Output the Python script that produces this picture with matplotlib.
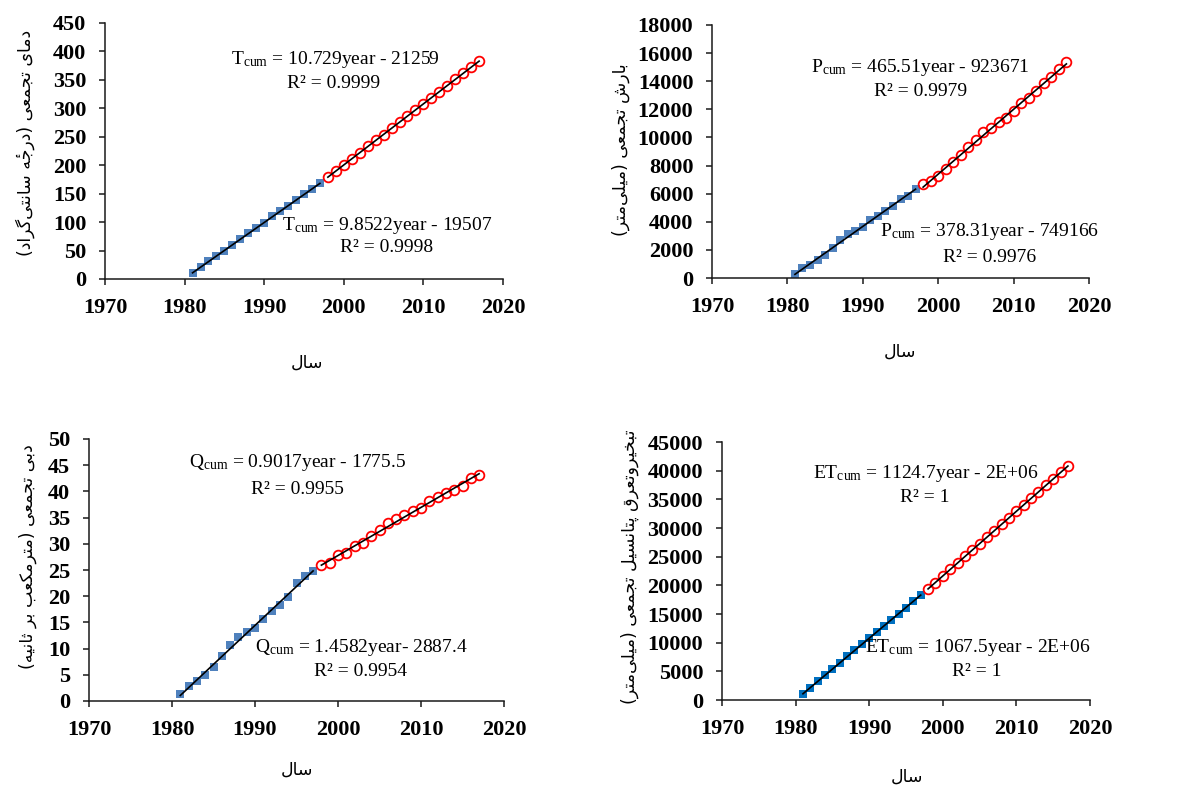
import numpy as np
import matplotlib
matplotlib.use("Agg")
import matplotlib.pyplot as plt

plt.rcParams['font.family'] = ['Liberation Serif', 'DejaVu Sans']
plt.rcParams['mathtext.fontset'] = 'custom'
plt.rcParams['mathtext.rm'] = 'Liberation Serif'
plt.rcParams['mathtext.it'] = 'Liberation Serif:italic'
plt.rcParams['mathtext.bf'] = 'Liberation Serif:bold'

# ---------------- data ----------------
years_1 = list(range(1981, 1998))
years_2 = list(range(1998, 2018))

temp_1 = [11, 21, 31, 40, 50, 59, 70, 80, 89, 99, 110, 119, 128, 139, 149, 158, 168]
temp_2 = [179, 190, 200, 211, 222, 233, 244, 254, 265, 276, 286, 297, 308, 318, 329,
          340, 351, 362, 372, 383]

prec_1 = [250, 690, 925, 1280, 1660, 2110, 2700, 3130, 3360, 3620, 4150, 4400, 4790,
          5120, 5590, 5830, 6330]
prec_2 = [6660, 6900, 7250, 7730, 8250, 8740, 9340, 9810, 10360, 10690, 11070, 11400,
          11870, 12420, 12820, 13270, 13840, 14290, 14900, 15360]

flow_1 = [1.27, 2.9, 3.9, 5.0, 6.4, 8.5, 10.7, 12.2, 13.1, 13.9, 15.6, 17.1, 18.3, 19.9,
          22.6, 23.8, 24.8]
flow_2 = [25.9, 26.4, 27.8, 28.3, 29.5, 30.1, 31.5, 32.7, 33.9, 34.7, 35.5, 36.2, 36.9,
          38.2, 38.9, 39.6, 40.2, 41.0, 42.5, 43.2]

et_1 = [1050, 2030, 3260, 4300, 5400, 6450, 7600, 8660, 9830, 10800, 11900, 12960, 13950,
        15000, 16100, 17200, 18260]
et_2 = [19360, 20470, 21630, 22790, 23900, 25060, 26160, 27270, 28430, 29530, 30640,
        31740, 32900, 34010, 35170, 36280, 37440, 38550, 39710, 40810]

y_labels = ["دمای تجمعی (درجۀ سانتی‌گراد)",
            "بارش تجمعی (میلی‌متر)",
            "دبی تجمعی (مترمکعب بر ثانیه)",
            "تبخیروتعرق پتانسیل تجمعی (میلی‌متر)"]
x_label = "سال"

eq_top = [("T", "10.729year - 21259", "0.9999"),
          ("P", "465.51year - 923671", "0.9979"),
          ("Q", "0.9017year - 1775.5", "0.9955"),
          ("ET", "1124.7year - 2E+06", "1")]
eq_bot = [("T", "9.8522year - 19507", "0.9998"),
          ("P", "378.31year - 749166", "0.9976"),
          ("Q", "1.4582year- 2887.4", "0.9954"),
          ("ET", "1067.5year - 2E+06", "1")]

y_max = [450, 18000, 50, 45000]
y_step = [50, 2000, 5, 5000]
x_ticks = [1970, 1980, 1990, 2000, 2010, 2020]

# ---------------- Persian shaping (presentation forms) ----------------
FORMS = {
    'ا': ('\uFE8D', '\uFE8E', None, None),
    'آ': ('\uFE81', '\uFE82', None, None),
    'ب': ('\uFE8F', '\uFE90', '\uFE91', '\uFE92'),
    'پ': ('\uFB56', '\uFB57', '\uFB58', '\uFB59'),
    'ت': ('\uFE95', '\uFE96', '\uFE97', '\uFE98'),
    'ث': ('\uFE99', '\uFE9A', '\uFE9B', '\uFE9C'),
    'ج': ('\uFE9D', '\uFE9E', '\uFE9F', '\uFEA0'),
    'چ': ('\uFB7A', '\uFB7B', '\uFB7C', '\uFB7D'),
    'ح': ('\uFEA1', '\uFEA2', '\uFEA3', '\uFEA4'),
    'خ': ('\uFEA5', '\uFEA6', '\uFEA7', '\uFEA8'),
    'د': ('\uFEA9', '\uFEAA', None, None),
    'ذ': ('\uFEAB', '\uFEAC', None, None),
    'ر': ('\uFEAD', '\uFEAE', None, None),
    'ز': ('\uFEAF', '\uFEB0', None, None),
    'ژ': ('\uFB8A', '\uFB8B', None, None),
    'س': ('\uFEB1', '\uFEB2', '\uFEB3', '\uFEB4'),
    'ش': ('\uFEB5', '\uFEB6', '\uFEB7', '\uFEB8'),
    'ص': ('\uFEB9', '\uFEBA', '\uFEBB', '\uFEBC'),
    'ض': ('\uFEBD', '\uFEBE', '\uFEBF', '\uFEC0'),
    'ط': ('\uFEC1', '\uFEC2', '\uFEC3', '\uFEC4'),
    'ظ': ('\uFEC5', '\uFEC6', '\uFEC7', '\uFEC8'),
    'ع': ('\uFEC9', '\uFECA', '\uFECB', '\uFECC'),
    'غ': ('\uFECD', '\uFECE', '\uFECF', '\uFED0'),
    'ف': ('\uFED1', '\uFED2', '\uFED3', '\uFED4'),
    'ق': ('\uFED5', '\uFED6', '\uFED7', '\uFED8'),
    'ک': ('\uFB8E', '\uFB8F', '\uFB90', '\uFB91'),
    'گ': ('\uFB92', '\uFB93', '\uFB94', '\uFB95'),
    'ل': ('\uFEDD', '\uFEDE', '\uFEDF', '\uFEE0'),
    'م': ('\uFEE1', '\uFEE2', '\uFEE3', '\uFEE4'),
    'ن': ('\uFEE5', '\uFEE6', '\uFEE7', '\uFEE8'),
    'ه': ('\uFEE9', '\uFEEA', '\uFEEB', '\uFEEC'),
    'و': ('\uFEED', '\uFEEE', None, None),
    'ی': ('\uFBFC', '\uFBFD', '\uFBFE', '\uFBFF'),
    # heh with yeh above: heh form followed by hamza above
    'ۀ': ('\uFEE9\u0654', '\uFEEA\u0654', None, None),
}
MIRROR = {'(': ')', ')': '('}


def shape(text):
    out = []
    n = len(text)
    for i, c in enumerate(text):
        if c not in FORMS:
            if c != '\u200c':
                out.append(MIRROR.get(c, c))
            continue
        prev = text[i - 1] if i > 0 else None
        nxt = text[i + 1] if i + 1 < n else None
        iso, fin, ini, med = FORMS[c]
        jp = prev in FORMS and FORMS[prev][2] is not None
        jn = ini is not None and nxt in FORMS
        if jp and jn:
            out.append(med)
        elif jp:
            out.append(fin)
        elif jn:
            out.append(ini)
        else:
            out.append(iso)
    return ''.join(out[::-1])


# ---------------- figure ----------------
W, H = 1189, 786
fig = plt.figure(figsize=(W / 100, H / 100), dpi=100)


def fx(px):
    return px / W


def fy(py):
    return 1 - py / H


# axes boxes in pixels: left, top, right, bottom
boxes = [(105, 23, 503, 279), (712, 25, 1089, 278),
         (89, 439, 504, 701), (722, 442, 1090, 700)]
blues = ['#4F81BD', '#4F81BD', '#4F81BD', '#0070C0']
series = [(temp_1, temp_2), (prec_1, prec_2), (flow_1, flow_2), (et_1, et_2)]

# text positions in pixels
top_pos = [((335, 60), (334, 84)), ((920, 68), (921, 92)),
           ((298, 463), (297, 489)), ((926, 473), (925, 498))]
bot_pos = [((387, 226), (387, 248)), ((990, 232), (990, 257)),
           ((361, 647), (361, 672)), ((978, 647), (977, 671))]
ylab_pos = [(25, 143), (621, 150), (28, 557), (630, 567)]
xlab_pos = [(307, 363), (900, 352), (297, 770), (907, 777)]

eq_fs = 14
for k in range(4):
    l, t, r, b = boxes[k]
    ax = fig.add_axes([fx(l), fy(b), fx(r) - fx(l), fy(t) - fy(b)])
    s1, s2 = series[k]
    ax.plot(years_1, s1, linestyle='none', marker='s', markersize=6.2,
            color=blues[k], markeredgewidth=0, zorder=2)
    ax.plot(years_2, s2, linestyle='none', marker='o', markersize=7.0,
            markerfacecolor='none', markeredgecolor='#FF0000',
            markeredgewidth=1.3, zorder=2)
    for yrs, vals in ((years_1, s1), (years_2, s2)):
        c = np.polyfit(yrs, vals, 1)
        xx = np.array([yrs[0], yrs[-1]])
        ax.plot(xx, np.polyval(c, xx), color='black', lw=1.2, zorder=3)

    ax.set_xlim(1970, 2020)
    ax.set_ylim(0, y_max[k])
    ax.set_xticks(x_ticks)
    ax.set_yticks(np.arange(0, y_max[k] + 1e-9, y_step[k]))
    ax.set_yticklabels([str(int(v)) for v in np.arange(0, y_max[k] + 1e-9, y_step[k])])
    for sp in ('top', 'right'):
        ax.spines[sp].set_visible(False)
    for sp in ('left', 'bottom'):
        ax.spines[sp].set_linewidth(1.1)
        ax.spines[sp].set_color('#1a1a1a')
    ax.tick_params(axis='both', direction='out', length=4.5, width=1.1,
                   color='#1a1a1a', labelsize=16, pad=9)
    for lab in ax.get_xticklabels() + ax.get_yticklabels():
        lab.set_fontweight('bold')
        lab.set_fontfamily('Liberation Serif')

    sym, eq, r2 = eq_top[k]
    (x1, y1), (x2, y2) = top_pos[k]
    fig.text(fx(x1), fy(y1), r'%s$_{\mathrm{cum}}$ = %s' % (sym, eq), ha='center',
             va='center', fontsize=eq_fs, family='Liberation Serif')
    fig.text(fx(x2), fy(y2), 'R² = %s' % r2, ha='center', va='center',
             fontsize=eq_fs, family='Liberation Serif')
    sym, eq, r2 = eq_bot[k]
    (x1, y1), (x2, y2) = bot_pos[k]
    fig.text(fx(x1), fy(y1), r'%s$_{\mathrm{cum}}$ = %s' % (sym, eq), ha='center',
             va='center', fontsize=eq_fs, family='Liberation Serif')
    fig.text(fx(x2), fy(y2), 'R² = %s' % r2, ha='center', va='center',
             fontsize=eq_fs, family='Liberation Serif')

    px, py = ylab_pos[k]
    fig.text(fx(px), fy(py), shape(y_labels[k]), rotation=90, ha='center',
             va='center', fontsize=12.5, family=['DejaVu Sans'])
    px, py = xlab_pos[k]
    fig.text(fx(px), fy(py), shape(x_label), ha='center', va='center',
             fontsize=12.5, family=['DejaVu Sans'])

fig.savefig('out.png', dpi=100)
